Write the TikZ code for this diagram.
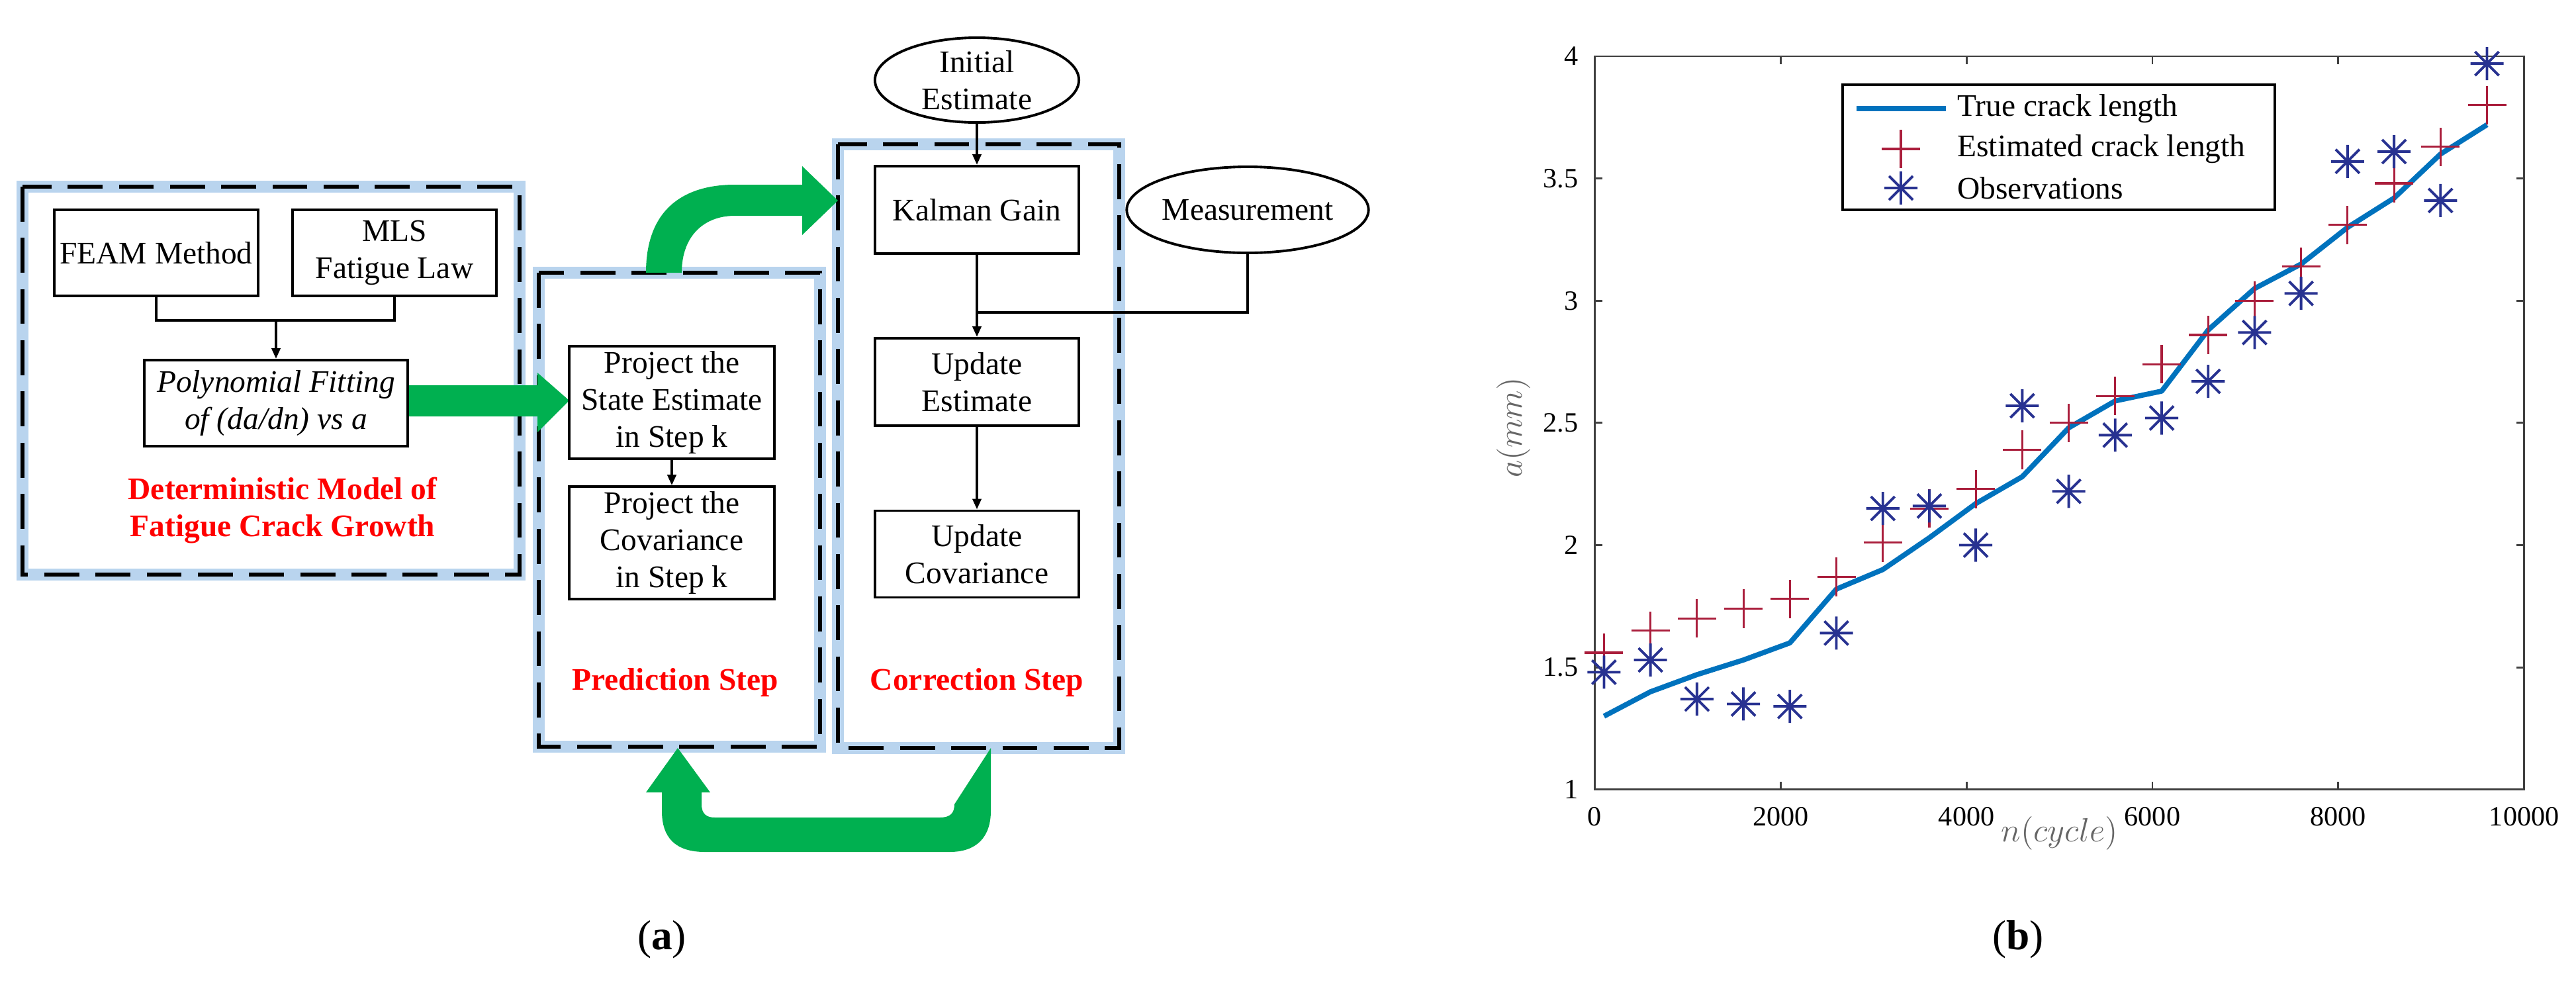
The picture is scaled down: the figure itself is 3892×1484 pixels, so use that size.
\documentclass[tikz,border=0pt]{standalone}
\usepackage{fontspec}
\setmainfont{Liberation Serif}
\usetikzlibrary{shapes.geometric,arrows.meta}
\definecolor{grn}{RGB}{0,176,80}
\definecolor{glow}{RGB}{185,212,238}
\definecolor{truec}{RGB}{0,114,189}
\definecolor{estc}{RGB}{170,30,60}
\definecolor{obsc}{RGB}{40,50,145}
\begin{document}
\begin{tikzpicture}[x=0.01cm,y=-0.01cm,
  box/.style={draw,line width=1.1pt,rectangle,minimum width=3.08cm,align=center,font=\fontsize{13.5}{16}\selectfont,inner sep=2pt},
  ell/.style={draw,line width=1.1pt,ellipse,minimum width=3.08cm,minimum height=1.28cm,align=center,font=\fontsize{13.5}{16}\selectfont,inner sep=0pt},
  dbox/.style={preaction={draw=glow,line width=5pt},draw=black,line width=1.6pt,dash pattern=on 15pt off 7pt},
  arr/.style={line width=1.1pt,-{Triangle[length=0.16cm,width=0.13cm]}},
  ln/.style={line width=1.1pt},
  redt/.style={text=red,font=\bfseries\fontsize{13.5}{16}\selectfont,align=center},
  tk/.style={font=\fontsize{12}{14}\selectfont},
  pmk/.pic={\draw[estc,line width=0.9pt] (-0.29cm,0)--(0.29cm,0) (0,-0.29cm)--(0,0.29cm);},
  amk/.pic={\draw[obsc,line width=1.1pt] (-0.25cm,0)--(0.25cm,0) (0,-0.25cm)--(0,0.25cm) (-0.18cm,-0.18cm)--(0.18cm,0.18cm) (-0.18cm,0.18cm)--(0.18cm,-0.18cm);}]
\useasboundingbox (0,0) rectangle (3892,1484);
% dashed frames
\draw[dbox] (34,282) rectangle (785,868);
\draw[dbox] (814,412) rectangle (1239,1128);
\draw[dbox] (1266,218) rectangle (1691,1130);
% green arrows
\fill[grn] (616,582) -- (812,582) -- (812,563) -- (860,605) -- (812,653) -- (812,629) -- (616,629) -- cycle;
\fill[grn] (976,412) .. controls (976,310) and (1040,279) .. (1110,279) -- (1212,279) -- (1212,251) -- (1266,303) -- (1212,355) -- (1212,326) -- (1110,326) .. controls (1065,326) and (1030,355) .. (1030,412) -- cycle;
\fill[grn] (1497,1130) -- (1497,1225) .. controls (1497,1265) and (1475,1287) .. (1435,1287) -- (1065,1287) .. controls (1020,1287) and (1000,1265) .. (1000,1225) -- (1000,1197) -- (976,1197) -- (1024,1130) -- (1073,1197) -- (1060,1197) -- (1060,1215) .. controls (1060,1230) and (1068,1235) .. (1080,1235) -- (1420,1235) .. controls (1436,1235) and (1442,1228) .. (1442,1215) -- cycle;
% nodes
\node[box,minimum height=1.30cm] (feam) at (236,382) {FEAM Method};
\node[box,minimum height=1.30cm] (mls) at (596,382) {MLS\\Fatigue Law};
\node[box,minimum width=3.98cm,minimum height=1.30cm,font=\itshape\fontsize{13.5}{16}\selectfont] (poly) at (417,609) {Polynomial Fitting\\of (da/dn) vs a};
\node[redt] (det) at (427,771) {Deterministic Model of\\Fatigue Crack Growth};
\node[box,minimum width=3.10cm,minimum height=1.63cm] (pse) at (1015,608) {Project the\\State Estimate\\in Step k};
\node[box,minimum width=3.10cm,minimum height=1.64cm] (pcov) at (1015,820) {Project the\\Covariance\\in Step k};
\node[redt] (pred) at (1020,1031) {Prediction Step};
\node[ell] (ini) at (1476,121) {Initial\\Estimate};
\node[box,minimum width=3.07cm,minimum height=1.32cm] (kal) at (1476,317) {Kalman Gain};
\node[ell,minimum width=3.10cm,minimum height=1.30cm] (meas) at (1885,317) {Measurement};
\node[box,minimum width=3.07cm,minimum height=1.32cm] (upe) at (1476,577) {Update\\Estimate};
\node[box,minimum width=3.07cm,minimum height=1.31cm] (upc) at (1476,837) {Update\\Covariance};
\node[redt] (corr) at (1476,1031) {Correction Step};
% connectors
\coordinate (j) at (417,484);
\coordinate (m) at (1476,472);
\draw[ln] (feam.south) |- (j);
\draw[ln] (mls.south) |- (j);
\draw[arr] (j) -- (poly.north);
\draw[arr] (pse.south) -- (pcov.north);
\draw[arr] (ini.south) -- (kal.north);
\draw[ln] (kal.south) -- (m);
\draw[ln] (meas.south) |- (m);
\draw[arr] (m) -- (upe.north);
\draw[arr] (upe.south) -- (upc.north);
\node[font=\fontsize{18}{21}\selectfont] (capa) at (1000,1419) {(\textbf{a})};
\node[font=\fontsize{18}{21}\selectfont] (capb) at (3049,1419) {(\textbf{b})};
% plot
\begin{scope}[shift={(24.08cm,-15.61cm)},x=0.001402cm,y=3.69cm]
\draw[black!75,line width=0.8pt] (0,1) rectangle (10000,4);
\foreach \n in {0,2000,4000,6000,8000,10000}{
  \draw[black!75,line width=0.8pt] (\n,1) -- ++(0,0.12cm) (\n,4) -- ++(0,-0.12cm);
  \node[tk,anchor=north] at (\n,0.96) {\n};}
\foreach \a in {1,1.5,2,2.5,3,3.5,4}{
  \draw[black!75,line width=0.8pt] (0,\a) -- ++(0.12cm,0) (10000,\a) -- ++(-0.12cm,0);
  \node[tk,anchor=east] at (-90,\a) {\a};}
\node[text=black!60,font=\fontsize{13.5}{15}\selectfont] (xl) at (5000,0.82) {$n(cycle)$};
\node[text=black!60,font=\fontsize{13.5}{15}\selectfont,rotate=90] (yl) at (-870,2.48) {$a(mm)$};
\draw[truec,line width=2.2pt,line join=round] (100,1.3)--(600,1.4)--(1100,1.47)--(1600,1.53)--(2100,1.6)--(2600,1.82)--(3100,1.9)--(3600,2.03)--(4100,2.17)--(4600,2.28)--(5100,2.48)--(5600,2.59)--(6100,2.63)--(6600,2.88)--(7100,3.05)--(7600,3.15)--(8100,3.3)--(8600,3.42)--(9100,3.6)--(9600,3.72);
\foreach \n/\a in {100/1.56,600/1.65,1100/1.7,1600/1.74,2100/1.78,2600/1.87,3100/2.01,3600/2.15,4100/2.23,4600/2.39,5100/2.5,5600/2.61,6100/2.74,6600/2.86,7100/3.0,7600/3.14,8100/3.31,8600/3.48,9100/3.63,9600/3.8}
  \pic at (\n,\a) {pmk};
\foreach \n/\a in {100/1.48,600/1.53,1100/1.37,1600/1.35,2100/1.34,2600/1.64,3100/2.15,3600/2.16,4100/2.0,4600/2.57,5100/2.22,5600/2.45,6100/2.52,6600/2.67,7100/2.87,7600/3.03,8100/3.57,8600/3.61,9100/3.41,9600/3.97}
  \pic at (\n,\a) {amk};
\end{scope}
% legend
\draw[fill=white,line width=0.9pt] (2784,128) rectangle (3437,317);
\draw[truec,line width=2.2pt] (2805,164) -- (2940,164);
\pic at (2872,225) {pmk};
\pic at (2872,284) {amk};
\node[anchor=west,font=\fontsize{13.5}{15}\selectfont] (l1) at (2945,164) {True crack length};
\node[anchor=west,font=\fontsize{13.5}{15}\selectfont] (l2) at (2945,225) {Estimated crack length};
\node[anchor=west,font=\fontsize{13.5}{15}\selectfont] (l3) at (2945,284) {Observations};
\end{tikzpicture}
\end{document}
